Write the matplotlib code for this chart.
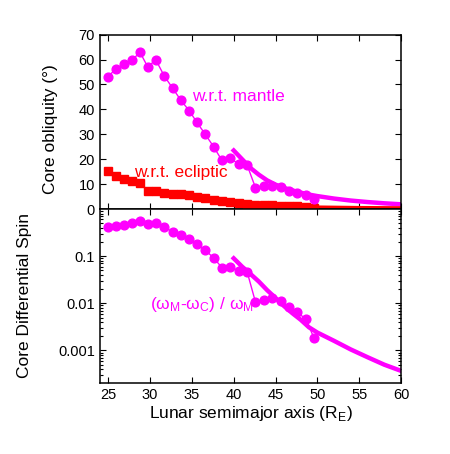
import numpy as np
import matplotlib.pyplot as plt

plt.rcParams['font.family'] = ['Liberation Sans', 'DejaVu Sans']

# semimajor axis of the sampled states (R_E)
a_pts = [25.0, 25.9, 26.9, 27.8, 28.8, 29.7, 30.7, 31.7, 32.7, 33.7, 34.7, 35.6, 36.6,
         37.6, 38.6, 39.6, 40.6, 41.6, 42.6, 43.6, 44.6, 45.6, 46.6, 47.6, 48.6, 49.6]
obl_mantle = [53.1, 56.4, 58.1, 59.7, 62.9, 57.2, 59.8, 53.4, 48.5, 43.6, 39.4, 34.8, 30.0,
              25.0, 19.5, 20.3, 18.1, 17.7, 8.6, 9.2, 9.4, 8.7, 7.2, 6.4, 5.6, 4.0]
obl_ecliptic = [15.4, 13.4, 12.0, 11.2, 10.6, 7.4, 7.1, 6.3, 6.2, 6.0, 5.5, 4.9, 4.4,
                3.6, 3.2, 2.9, 2.5, 2.0, 1.7, 1.6, 1.5, 1.4, 1.3, 1.1, 0.9, 0.6]
diff_spin = [0.41, 0.445, 0.466, 0.50, 0.55, 0.47, 0.50, 0.41, 0.33, 0.28, 0.23, 0.18, 0.134,
             0.092, 0.057, 0.060, 0.048, 0.047, 0.0107, 0.0119, 0.013, 0.011, 0.0084,
             0.0064, 0.0047, 0.00185]

# analytic (thick) curves
a_th = [40, 41, 42, 43, 44, 45, 46, 47, 48, 49, 50, 52, 54, 56, 58, 60]
obl_mantle_th = [23.5, 20.0, 16.5, 13.8, 11.5, 9.8, 8.5, 7.5, 6.6, 5.8, 5.2, 4.2, 3.4, 2.8, 2.3, 1.9]
a_th_ecl = [42, 45, 50, 55, 60]
obl_ecl_th = [1.2, 0.9, 0.55, 0.35, 0.25]
spin_th = [0.09, 0.06, 0.042, 0.029, 0.019, 0.013, 0.0088, 0.0062, 0.0045, 0.0031,
           0.0024, 0.0016, 0.00105, 0.00072, 0.0005, 0.00037]

mag = '#ff00ff'
red = '#ff0000'

fig = plt.figure(figsize=(4.5, 4.54), dpi=100)
ax1 = fig.add_axes([0.222, 0.5396, 0.669, 0.384])
ax2 = fig.add_axes([0.222, 0.157, 0.669, 0.3826])

# top panel: obliquity
ax1.plot(a_th, obl_mantle_th, color=mag, lw=3.2, zorder=2)
ax1.plot(a_th_ecl, obl_ecl_th, color=red, lw=3.2, zorder=2)
ax1.plot(a_pts, obl_ecliptic, color=red, lw=1, marker='s', ms=6.3, zorder=3)
ax1.plot(a_pts, obl_mantle, color=mag, lw=1, marker='o', ms=6.3, zorder=4)
ax1.text(35.0, 45, 'w.r.t. mantle', color=mag, fontsize=12.5, va='center')
ax1.text(28.1, 14.7, 'w.r.t. ecliptic', color=red, fontsize=12.5, va='center')
ax1.set_xlim(24, 60)
ax1.set_ylim(0, 70)
ax1.set_yticks(range(0, 71, 10))
ax1.set_xticks(range(25, 61, 5))
ax1.tick_params(labelbottom=False)
ax1.set_ylabel('Core obliquity (°)', fontsize=12.5)
ax1.yaxis.set_label_coords(-0.14, 0.46)

# bottom panel: differential spin
ax2.plot(a_th, spin_th, color=mag, lw=3.2, zorder=2)
ax2.plot(a_pts, diff_spin, color=mag, lw=1, marker='o', ms=6.3, zorder=3)
ax2.text(30.05, 0.0095, r'($\mathregular{\omega_M}$-$\mathregular{\omega_C}$) / $\mathregular{\omega_M}$',
         color=mag, fontsize=12.5, va='center')
ax2.set_yscale('log')
ax2.set_xlim(24, 60)
ax2.set_ylim(2.07e-4, 1)
ax2.set_yticks([0.1, 0.01, 0.001])
ax2.set_yticklabels(['0.1', '0.01', '0.001'])
ax2.set_xticks(range(25, 61, 5))
ax2.set_ylabel('Core Differential Spin', fontsize=12.5)
ax2.yaxis.set_label_coords(-0.226, 0.5)
ax2.set_xlabel('Lunar semimajor axis (R$_\\mathregular{E}$)', fontsize=12.5, labelpad=2)

for ax in (ax1, ax2):
    ax.tick_params(direction='in', which='both', top=True, right=True, labelsize=10.5, length=4, width=0.8)
    ax.tick_params(which='minor', length=2)
    for s in ax.spines.values():
        s.set_linewidth(1.1)

fig.savefig('out.png', dpi=100)
